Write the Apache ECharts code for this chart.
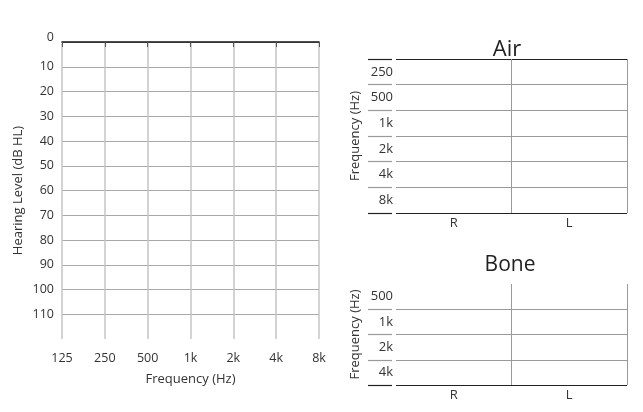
<!DOCTYPE html>
<html><head><meta charset="utf-8">
<script src="https://cdn.jsdelivr.net/npm/echarts@6/dist/echarts.min.js"></script>
<style>html,body{margin:0;padding:0;background:#fff}#c{width:643px;height:412px}</style>
</head><body><div id="c"></div>
<script>
// ---- data ----
const audioFreqLabels = ['125', '250', '500', '1k', '2k', '4k', '8k'];
const hearingLevelLabels = [0, 10, 20, 30, 40, 50, 60, 70, 80, 90, 100, 110];
const hearingLevelMin = 0;
const hearingLevelMax = 120;
const hearingLevelStep = 10;
const airFreqLabels = ['250', '500', '1k', '2k', '4k', '8k'];
const boneFreqLabels = ['500', '1k', '2k', '4k'];
const earLabels = ['R', 'L'];
const tableTitles = ['Air', 'Bone'];
const hearingAxisName = 'Hearing Level (dB HL)';
const freqAxisName = 'Frequency (Hz)';

// ---- chart ----
const FONT = '"Open Sans", "DejaVu Sans", sans-serif';
const TXT = '#333';
const chart = echarts.init(document.getElementById('c'), null, {renderer: 'canvas'});

function rowLineColors(n, showTop) {
  const arr = [];
  for (let i = 0; i <= n; i++) {
    if (i === 0) arr.push(showTop ? '#222' : 'rgba(0,0,0,0)');
    else if (i === n) arr.push('#222');
    else arr.push('#9a9a9a');
  }
  return arr;
}

function tableAxes(gridData, gridLabel, cats, showTop) {
  const colors = rowLineColors(cats.length, showTop);
  const x = [
    {
      gridIndex: gridData, type: 'category', position: 'bottom', data: earLabels,
      axisLine: {show: false}, axisTick: {show: false},
      axisLabel: {margin: 4, fontSize: 13, color: TXT, fontFamily: FONT},
      splitLine: {show: true, showMinLine: false, lineStyle: {color: '#9a9a9a', width: 1}}
    },
    {gridIndex: gridLabel, type: 'value', show: false, min: 0, max: 1}
  ];
  const y = [
    {
      gridIndex: gridData, type: 'category', inverse: true, data: cats,
      axisLine: {show: false}, axisTick: {show: false},
      axisLabel: {margin: 3, fontSize: 13, color: TXT, fontFamily: FONT, padding: [0, 0, 6, 0]},
      splitLine: {show: true, lineStyle: {color: colors, width: 1.2}},
      name: freqAxisName, nameLocation: 'middle', nameGap: 34,
      nameTextStyle: {fontSize: 13, color: TXT, fontFamily: FONT}
    },
    {
      gridIndex: gridLabel, type: 'category', inverse: true, data: cats,
      axisLine: {show: false}, axisTick: {show: false}, axisLabel: {show: false},
      splitLine: {show: true, lineStyle: {color: colors, width: 1.2}}
    }
  ];
  return {x, y};
}

const air = tableAxes(1, 2, airFreqLabels, true);
const bone = tableAxes(3, 4, boneFreqLabels, false);

const option = {
  animation: false,
  backgroundColor: '#fff',
  textStyle: {fontFamily: FONT},
  title: [
    {text: tableTitles[0], left: 502, top: 34, textAlign: 'center',
     textStyle: {fontSize: 22, fontWeight: 'normal', color: '#222', fontFamily: FONT}},
    {text: tableTitles[1], left: 505, top: 250, textAlign: 'center',
     textStyle: {fontSize: 21, fontWeight: 'normal', color: '#222', fontFamily: FONT}}
  ],
  grid: [
    {left: 62, top: 42, width: 257, height: 297},
    {left: 396, top: 59, width: 231, height: 154},
    {left: 368, top: 59, width: 24, height: 154},
    {left: 396, top: 284, width: 231, height: 101},
    {left: 368, top: 284, width: 24, height: 101}
  ],
  xAxis: [
    {
      gridIndex: 0, type: 'category', position: 'bottom', boundaryGap: false,
      data: audioFreqLabels, offset: 3,
      axisLine: {show: false},
      axisTick: {show: true, length: 5, lineStyle: {color: '#555', width: 1}},
      axisLabel: {margin: 10, fontSize: 12.5, color: TXT, fontFamily: FONT},
      splitLine: {show: true, lineStyle: {color: '#c4c4c4', width: 1.5}},
      name: freqAxisName, nameLocation: 'middle', nameGap: 31,
      nameTextStyle: {fontSize: 13, color: TXT, fontFamily: FONT}
    },
    {
      gridIndex: 0, type: 'category', position: 'top', boundaryGap: false,
      data: audioFreqLabels,
      axisLine: {show: true, lineStyle: {color: '#111', width: 1.5}},
      axisTick: {show: false}, axisLabel: {show: false}, splitLine: {show: false}
    },
    ...air.x, ...bone.x
  ],
  yAxis: [
    {
      gridIndex: 0, type: 'value', inverse: true,
      min: hearingLevelMin, max: hearingLevelMax, interval: hearingLevelStep,
      axisLine: {show: false}, axisTick: {show: false},
      axisLabel: {
        margin: 8, fontSize: 12.5, color: TXT, fontFamily: FONT,
        formatter: v => {
          if (hearingLevelLabels.indexOf(v) < 0) return '';
          return v === hearingLevelMin ? '{top|' + v + '}' : String(v);
        },
        rich: {top: {fontSize: 12.5, color: TXT, fontFamily: FONT, padding: [0, 0, 10, 0]}}
      },
      splitLine: {show: true, showMaxLine: false, lineStyle: {color: '#a8a8a8', width: 1}},
      name: hearingAxisName, nameLocation: 'middle', nameGap: 37,
      nameTextStyle: {fontSize: 13, color: TXT, fontFamily: FONT}
    },
    ...air.y, ...bone.y
  ],
  series: []
};
chart.setOption(option);
</script>
</body></html>
